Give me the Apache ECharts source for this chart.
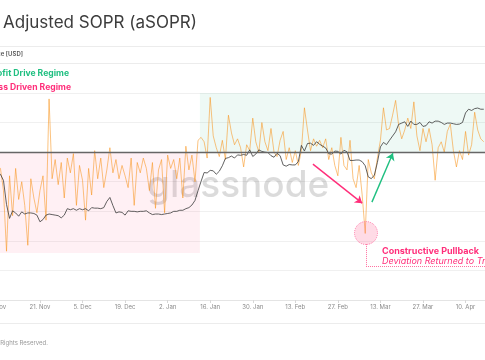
<!DOCTYPE html>
<html><head><meta charset="utf-8">
<script src="https://cdn.jsdelivr.net/npm/echarts@6/dist/echarts.min.js"></script>
<style>
html,body{margin:0;padding:0;width:485px;height:360px;overflow:hidden;background:#fff;}
#c{position:absolute;left:-20px;top:0;width:530px;height:360px;}
</style></head><body><div id="c"></div>
<script>
// day index 0 = 7 Nov 2022, one value per day
const tickLabels = ['7. Nov','21. Nov','5. Dec','19. Dec','2. Jan','16. Jan','30. Jan','13. Feb','27. Feb','13. Mar','27. Mar','10. Apr','24. Apr'];

const asopr = [
 0.988,0.989,0.974,0.933,0.984,0.957,0.989,0.968,0.980,0.964,
 0.937,0.982,0.969,0.959,0.974,0.984,0.954,1.036,0.982,0.995,
 0.978,0.993,0.969,0.996,0.986,0.999,0.964,0.991,0.981,0.954,
 0.989,0.971,1.001,0.982,0.996,0.976,0.988,1.003,0.986,0.995,
 0.982,0.991,0.984,0.976,0.996,0.964,0.993,0.986,0.996,0.989,
 0.974,0.993,0.962,0.988,0.995,0.959,0.998,0.989,0.995,0.982,
 0.996,0.969,1.004,0.988,0.998,0.980,1.008,1.010,1.007,0.996,
 1.037,1.011,1.003,0.997,1.008,0.995,1.025,1.013,1.005,1.009,
 1.003,0.990,1.005,1.001,1.023,1.007,1.000,1.020,1.007,1.001,
 1.016,1.000,0.997,1.008,1.014,0.995,1.003,0.993,1.001,0.991,
 1.001,1.030,1.015,1.001,1.009,1.004,1.008,1.003,1.009,0.995,
 1.003,0.991,0.984,1.010,0.991,0.988,1.008,0.982,0.976,0.991,
 0.971,0.945,0.995,0.986,0.982,0.996,1.008,1.030,1.015,1.016,
 1.025,1.035,1.018,1.009,1.015,1.023,1.016,1.034,1.011,1.001,
 1.016,1.007,1.016,1.005,0.981,1.003,1.007,1.000,1.014,1.019,
 1.001,0.990,1.001,0.995,1.014,0.998,1.005,1.027,1.015,1.009,
 1.007
];

const price = [
 20800,20700,20000,17500,16200,16900,16700,16400,16800,16600,
 16700,16700,16650,16500,15900,16100,16500,16600,16550,16500,
 16450,16250,16500,17100,17000,17100,16950,17100,17000,17100,
 16900,17200,17150,17150,17100,17200,17800,18200,17400,16700,
 16800,16750,16500,16900,16850,16850,16800,16850,16850,16900,
 16700,16550,16600,16600,16550,16600,16650,16700,16850,16850,
 16950,16950,17100,17200,17450,17900,18900,19900,20900,20850,
 21150,21100,20700,21050,21700,22600,22700,22900,22650,23050,
 23000,23100,23000,23700,22850,23150,23700,23500,23400,23350,
 22950,22750,23250,22950,21800,21650,21850,21800,21800,22200,
 24300,23550,24550,24600,24300,24800,24450,24200,23950,23200,
 23150,23550,23500,23150,23650,23450,22350,22350,22400,22400,
 22200,21700,20400,20200,20600,22100,24100,24700,24400,25000,
 25600,26200,27300,27500,27700,27000,27800,27300,27300,27600,
 27000,27100,27700,27500,27800,27800,27600,27300,27500,27500,
 27400,27300,27350,27600,29100,29700,29500,29800,29900,29700,
 29700
];

const OFF = 20;
const PINK = '#ff2e7a', GREEN = '#1fbf80';
const chart = echarts.init(document.getElementById('c'), null, {width: 530, height: 360});

const option = {
  animation: false,
  textStyle: {fontFamily: 'Inter'},
  grid: {left: 17.4, right: 1.9, top: 93, bottom: 60, containLabel: false, outerBoundsMode: 'none'},
  xAxis: {
    type: 'value', min: 0, max: 168, interval: 14,
    axisLine: {lineStyle: {color: '#e4e4e4'}},
    axisTick: {show: true, length: 3, lineStyle: {color: '#d8d8d8'}},
    axisLabel: {fontSize: 6, color: '#8a8a8a', margin: 4, fontFamily: 'Inter',
      formatter: v => tickLabels[Math.round(v / 14)] || ''},
    splitLine: {show: false}
  },
  yAxis: [
    {type: 'value', min: 0.9, max: 1.04, interval: 0.02,
     axisLabel: {show: false}, axisLine: {show: false}, axisTick: {show: false},
     splitLine: {lineStyle: {color: '#f0f0f0', width: 1}}},
    {type: 'log', min: 10300, max: 32500, show: false, splitLine: {show: false}}
  ],
  series: [
    {
      name: 'aSOPR', type: 'line', data: asopr.map((v, i) => [i, v]),
      showSymbol: false, symbol: 'none', z: 2,
      lineStyle: {color: '#f7931a', width: 0.9, opacity: 0.62},
      markArea: {
        silent: true,
        data: [
          [{xAxis: 0, yAxis: 0.9318, itemStyle: {color: 'rgba(255,60,120,0.08)'}}, {xAxis: 66.6, yAxis: 1.0}],
          [{xAxis: 66.6, yAxis: 1.0, itemStyle: {color: 'rgba(40,180,130,0.08)'}}, {xAxis: 168, yAxis: 1.04}]
        ]
      },
      markLine: {
        silent: true, animation: false, label: {show: false},
        data: [
          [{coord: [0, 1.0], symbol: 'none', lineStyle: {color: '#666', width: 1.3, type: 'solid'}}, {coord: [168, 1.0], symbol: 'none'}],
          [{coord: [103.8, 0.9919], symbol: 'none', lineStyle: {color: PINK, width: 1.4, type: 'solid'}}, {coord: [120, 0.9655], symbol: 'arrow', symbolSize: 7}],
          [{coord: [123.2, 0.9662], symbol: 'none', lineStyle: {color: GREEN, width: 1.4, type: 'solid'}}, {coord: [130.1, 0.9993], symbol: 'arrow', symbolSize: 7}],
          [{coord: [121.25, 0.9378], symbol: 'none', lineStyle: {color: '#ff6fa0', width: 1, type: 'dotted'}}, {coord: [121.25, 0.9230], symbol: 'none'}],
          [{coord: [121.25, 0.9230], symbol: 'none', lineStyle: {color: '#ff6fa0', width: 1, type: 'dotted'}}, {coord: [168, 0.9230], symbol: 'none'}]
        ]
      },
      markPoint: {
        silent: true, label: {show: false},
        data: [{coord: [121.25, 0.9453], symbol: 'circle', symbolSize: 23,
          itemStyle: {color: 'rgba(255,90,140,0.22)', borderColor: '#ff7aa8', borderWidth: 1, borderType: 'dotted'}}]
      }
    },
    {
      name: 'Price [USD]', type: 'line', yAxisIndex: 1, data: price.map((v, i) => [i, v]),
      showSymbol: false, symbol: 'none', z: 3,
      lineStyle: {color: '#3a3a3a', width: 0.8}
    }
  ],
  graphic: [
    {type: 'text', x: 3 + OFF, y: 23, z: 10, style: {text: 'Adjusted SOPR (aSOPR)', font: '400 17px Inter', fill: '#3c3c3c', verticalAlign: 'middle'}},
    {type: 'line', shape: {x1: 0, y1: 46.5, x2: 530, y2: 46.5}, style: {stroke: '#ececec', lineWidth: 1}},
    {type: 'line', shape: {x1: 0, y1: 63.5, x2: 530, y2: 63.5}, style: {stroke: '#ececec', lineWidth: 1}},
    {type: 'line', shape: {x1: 0, y1: 323.5, x2: 530, y2: 323.5}, style: {stroke: '#ececec', lineWidth: 1}},
    {type: 'text', x: 23 + OFF, y: 54.5, style: {text: 'Price [USD]', font: '600 6px Inter', fill: '#555', align: 'right', verticalAlign: 'middle'}},
    {type: 'text', x: 69 + OFF, y: 73, style: {text: 'Profit Drive Regime', font: '700 8.6px Inter', fill: GREEN, align: 'right', verticalAlign: 'middle'}},
    {type: 'text', x: 71 + OFF, y: 87, style: {text: 'Loss Driven Regime', font: '700 8.6px Inter', fill: PINK, align: 'right', verticalAlign: 'middle'}},
    {type: 'text', x: 48 + OFF, y: 343, style: {text: '© 2023 Glassnode. All Rights Reserved.', font: '400 6px Inter', fill: '#999', align: 'right', verticalAlign: 'middle'}},
    {type: 'text', x: 147 + OFF, y: 186, z: 1, style: {text: 'glassnode', font: '500 37px Inter', fill: 'rgba(0,0,0,0.14)', verticalAlign: 'middle'}},
    {type: 'text', x: 382 + OFF, y: 251, style: {text: 'Constructive Pullback', font: '700 9px Inter', fill: PINK, verticalAlign: 'middle'}},
    {type: 'text', x: 382 + OFF, y: 261.5, style: {text: 'Deviation Returned to Trend', font: 'italic 400 9px Inter', fill: PINK, verticalAlign: 'middle'}}
  ]
};
chart.setOption(option);
</script>
</body></html>
